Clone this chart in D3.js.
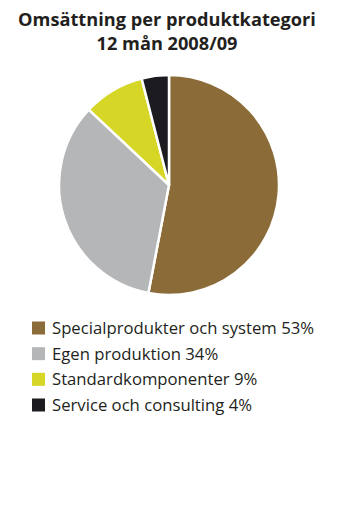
<!DOCTYPE html>
<html><head><meta charset="utf-8">
<script src="https://cdn.jsdelivr.net/npm/d3@7"></script>
<style>body{margin:0;background:#fff}svg{display:block}</style>
</head><body>
<script>
const categories = ["Specialprodukter och system", "Egen produktion", "Standardkomponenter", "Service och consulting"];
const values = [53, 34, 9, 4];
const colors = ["#8b6c38", "#b5b6b8", "#d5d626", "#1c1b20"];
const titleLines = ["Omsättning per produktkategori", "12 mån 2008/09"];

const W = 338, H = 523;
const svg = d3.select("body").append("svg").attr("width", W).attr("height", H);

svg.selectAll("text.title").data(titleLines).join("text")
  .attr("class","title")
  .attr("x", 167).attr("y", (d,i) => 26 + i*24)
  .attr("text-anchor","middle")
  .attr("font-family","'Open Sans', sans-serif")
  .attr("font-weight", 700)
  .attr("font-size", 18.2)
  .attr("fill","#231f20")
  .text(d => d);

const data = categories.map((c,i) => ({c, v: values[i], col: colors[i]}));
const pie = d3.pie().value(d => d.v).sort(null);
const arc = d3.arc().innerRadius(0).outerRadius(110);
svg.append("g").attr("transform","translate(169,185)")
  .selectAll("path").data(pie(data)).join("path")
  .attr("d", arc).attr("fill", d => d.data.col)
  .attr("stroke","#fff").attr("stroke-width", 2.5).attr("stroke-linejoin","round");

const y = d3.scalePoint().domain(categories).range([328, 405]);
const lg = svg.append("g").selectAll("g").data(data).join("g")
  .attr("transform", d => `translate(32,${y(d.c)})`);
lg.append("rect").attr("x",0).attr("y",-6.5).attr("width",13).attr("height",13).attr("fill", d => d.col);
lg.append("text").attr("x",20).attr("y",0).attr("dy","0.36em")
  .attr("font-family","'Open Sans', sans-serif").attr("font-size",16.7).attr("fill","#231f20")
  .text(d => `${d.c} ${d.v}%`);
</script>
</body></html>
